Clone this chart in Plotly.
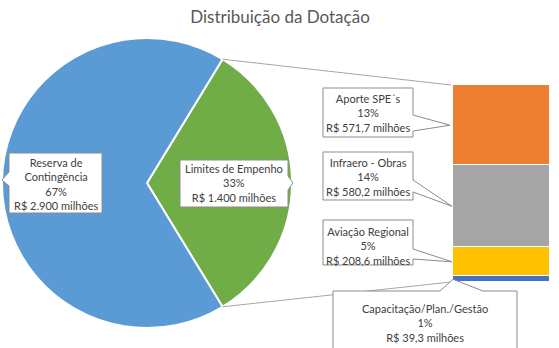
import math
import plotly.graph_objects as go

# Pie: allocation of the budget
pie_labels = ["Limites de Empenho", "Reserva de Contingência"]
pie_text = ["Limites de Empenho", "Reserva de<br>Contingência"]
pie_values = [1400, 2900]
pie_pct = [33, 67]
pie_colors = ["#70AD47", "#5B9BD5"]

# Stacked bar: breakdown of "Limites de Empenho" (bottom to top)
bar_labels = ["Capacitação/Plan./Gestão", "Aviação Regional", "Infraero - Obras", "Aporte SPE´s"]
bar_values = [39.3, 208.6, 580.2, 571.7]
bar_pct = [1, 5, 14, 13]
bar_colors = ["#4472C4", "#FFC000", "#A5A5A5", "#ED7D31"]

TITLE = "Distribuição da Dotação"

W, H = 559, 348
FONT = "Lato"
TXT = "#404040"
BORDER = "#8C8C8C"
CONNECTOR = "#A6A6A6"


def X(px):
    return px / W


def Y(py):
    return 1 - py / H


def brl(v):
    if float(v).is_integer():
        s = f"{int(v):,}".replace(",", ".")
    else:
        s = f"{v:,.1f}".replace(",", "X").replace(".", ",").replace("X", ".")
    return f"R$ {s} milhões"


# pie geometry (pixels)
cx, cy, r = 147, 183, 145
# bar geometry (pixels)
bx0, bx1, by_top, by_bot = 453, 550, 85, 282

half = 180 * pie_values[0] / sum(pie_values)  # half-angle of the exploded slice
rotation = 90 - half

fig = go.Figure()
fig.add_trace(go.Pie(
    labels=pie_labels, values=pie_values, sort=False, direction="clockwise",
    rotation=rotation, textinfo="none", hoverinfo="label+value",
    marker=dict(colors=pie_colors, line=dict(color="white", width=2)),
    domain=dict(x=[X(cx - r), X(cx + r)], y=[Y(cy + r), Y(cy - r)]),
    showlegend=False,
))

for lab, val, col in zip(bar_labels, bar_values, bar_colors):
    fig.add_trace(go.Bar(
        x=[0], y=[val], name=lab, width=1, marker=dict(color=col, line=dict(color="white", width=1.5)),
        xaxis="x2", yaxis="y2", showlegend=False, hoverinfo="name+y",
    ))

bar_total = sum(bar_values)


def bar_py(v):
    return by_bot - (by_bot - by_top) * v / bar_total


shapes = []
# connector lines between the slice edges and the bar ends
a = math.radians(half)
for sgn, target in ((1, by_top), (-1, by_bot)):
    px = cx + r * math.cos(a)
    py = cy - sgn * r * math.sin(a)
    shapes.append(dict(type="line", xref="paper", yref="paper",
                       x0=X(px), y0=Y(py), x1=X(bx0 - 2), y1=Y(target),
                       line=dict(color=CONNECTOR, width=1)))


def path(points):
    return "M " + " L ".join(f"{X(p[0]):.5f},{Y(p[1]):.5f}" for p in points) + " Z"


def callout(points):
    shapes.append(dict(type="path", xref="paper", yref="paper", path=path(points),
                       fillcolor="white", line=dict(color=BORDER, width=1)))


annotations = []


def label(x, y, text):
    annotations.append(dict(x=X(x), y=Y(y), xref="paper", yref="paper", text=text,
                            showarrow=False, align="center", xanchor="center", yanchor="middle",
                            font=dict(family=FONT, size=11, color=TXT)))


# pie callouts
callout([(9, 153), (102, 153), (102, 213), (9, 213), (9, 186), (2, cy - 3), (9, 172)])
label(56, 184, f"{pie_text[1]}<br>{pie_pct[1]}%<br>{brl(pie_values[1])}")
callout([(180, 160), (288, 160), (288, 176), (cx + r + 1, cy), (288, 190), (288, 207), (180, 207)])
label(234, 183, f"{pie_text[0]}<br>{pie_pct[0]}%<br>{brl(pie_values[0])}")

# bar callouts, pointing at the middle of each segment
cum = [sum(bar_values[:i]) for i in range(len(bar_values))]
mids = [bar_py(c + v / 2) for c, v in zip(cum, bar_values)]

# Aporte SPE´s
callout([(323, 88), (413, 88), (413, 115), (bx0 - 3, mids[3]), (413, 131), (413, 137), (323, 137)])
label(368, 113, f"{bar_labels[3]}<br>{bar_pct[3]}%<br>{brl(bar_values[3])}")
# Infraero - Obras
callout([(323, 152), (413, 152), (413, 180), (bx0 - 1, mids[2]), (413, 192), (413, 200), (323, 200)])
label(368, 177, f"{bar_labels[2]}<br>{bar_pct[2]}%<br>{brl(bar_values[2])}")
# Aviação Regional
callout([(323, 220), (413, 220), (413, 249), (bx0 - 1, mids[1]), (413, 259), (413, 265), (323, 265)])
label(368, 246, f"{bar_labels[1]}<br>{bar_pct[1]}%<br>{brl(bar_values[1])}")
# Capacitação/Plan./Gestão
callout([(333, 291), (440, 291), (bx0, mids[0]), (483, 291), (517, 291), (517, 360), (333, 360)])
label(425, 323, f"{bar_labels[0]}<br>{bar_pct[0]}%<br>{brl(bar_values[0])}")

fig.update_layout(
    width=W, height=H,
    margin=dict(l=0, r=0, t=0, b=0),
    paper_bgcolor="white", plot_bgcolor="white",
    barmode="stack", bargap=0,
    title=dict(text=TITLE, x=X(280), y=Y(17), xanchor="center", yanchor="middle",
               font=dict(family=FONT, size=17, color="#595959")),
    xaxis2=dict(domain=[X(bx0), X(bx1)], range=[-0.5, 0.5], visible=False, anchor="y2"),
    yaxis2=dict(domain=[Y(by_bot), Y(by_top)], range=[0, bar_total], visible=False, anchor="x2"),
    xaxis=dict(visible=False), yaxis=dict(visible=False),
    shapes=shapes, annotations=annotations,
)

fig.write_html("out.html")
